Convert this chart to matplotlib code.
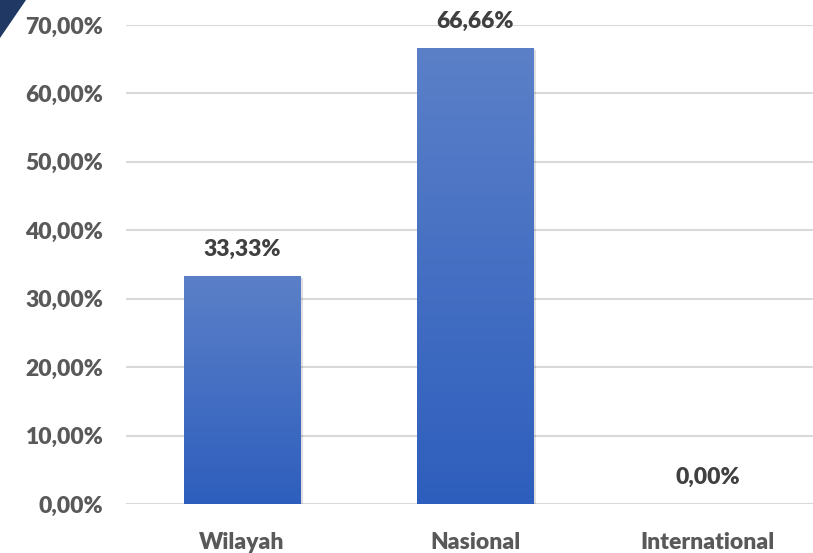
import matplotlib
matplotlib.use("Agg")
import matplotlib.pyplot as plt
import numpy as np
from matplotlib.patches import Polygon, Rectangle
from matplotlib.colors import LinearSegmentedColormap

categories = ["Wilayah", "Nasional", "International"]
values = [33.33, 66.66, 0.00]
labels = ["33,33%", "66,66%", "0,00%"]
yticks = [0, 10, 20, 30, 40, 50, 60, 70]
ytick_labels = ["0,00%", "10,00%", "20,00%", "30,00%", "40,00%", "50,00%", "60,00%", "70,00%"]

W, H = 813, 553
fig = plt.figure(figsize=(W / 100, H / 100), dpi=100)
ax = fig.add_axes([125.5 / W, (H - 504) / H, 699 / W, (504 - 25) / H])
ax.set_xlim(-0.5, 2.5)
ax.set_ylim(0, 70)

font = "Lato"
grey = "#595959"
fs = 16.5

for y in yticks:
    ax.axhline(y, color="#D9D9D9", lw=1.5, zorder=0)

x = np.arange(len(categories))
bw = 0.5
cmap = LinearSegmentedColormap.from_list("g", ["#2E5EBD", "#5B80C8"])
grad = np.linspace(0, 1, 256).reshape(-1, 1)
for xi, v in zip(x, values):
    if v <= 0:
        continue
    sh = Rectangle((xi - bw / 2 + 0.012, -0.3), bw, v, facecolor="#000000", alpha=0.12,
                   edgecolor="none", zorder=1)
    ax.add_patch(sh)
    rect = Rectangle((xi - bw / 2, 0), bw, v, facecolor="none", edgecolor="none", zorder=2)
    ax.add_patch(rect)
    im = ax.imshow(grad, extent=(xi - bw / 2, xi + bw / 2, 0, v), origin="lower",
                   cmap=cmap, aspect="auto", zorder=2)
    im.set_clip_path(rect)

for xi, v, lab in zip(x, values, labels):
    ax.text(xi, v + 2.3, lab, ha="center", va="bottom", fontsize=fs, fontweight="heavy",
            color="#404040", family=font)

ax.set_xticks(x)
ax.set_xticklabels(categories, fontsize=fs, fontweight="heavy", color=grey, family=font)
ax.set_yticks(yticks)
ax.set_yticklabels(ytick_labels, fontsize=fs, fontweight="heavy", color=grey, family=font)
ax.tick_params(axis="y", length=0, pad=16)
ax.tick_params(axis="x", length=0, pad=20)
for s in ax.spines.values():
    s.set_visible(False)
ax.set_xlim(-0.5, 2.5)
ax.set_ylim(0, 70)

tri = Polygon([(0, H), (26, H), (0, H - 38)], closed=True, transform=None,
              facecolor="#1F3864", edgecolor="none")
fig.patches.append(tri)

fig.savefig("out.png", dpi=100)
